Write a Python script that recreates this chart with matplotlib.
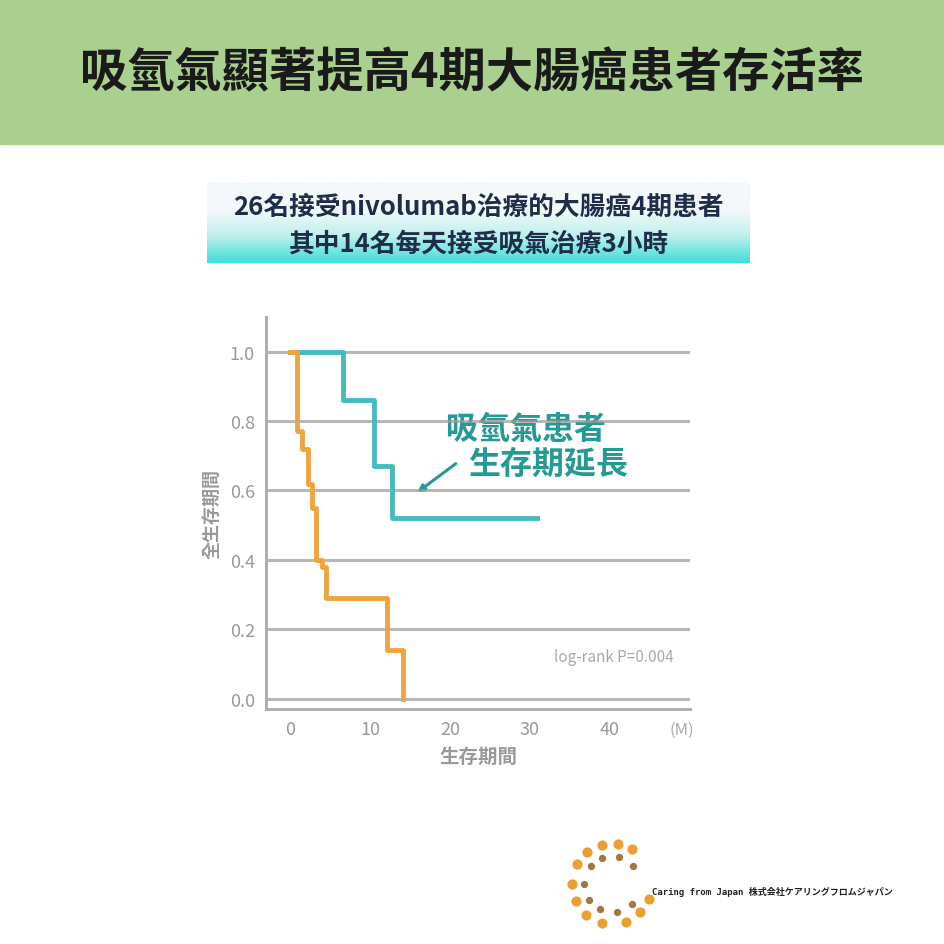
import matplotlib
matplotlib.use("Agg")
import matplotlib.pyplot as plt
import numpy as np
from matplotlib.colors import LinearSegmentedColormap

plt.rcParams['font.family'] = ['Noto Sans CJK TC', 'DejaVu Sans']

title = "吸氫氣顯著提高4期大腸癌患者存活率"
subtitle1 = "26名接受nivolumab治療的大腸癌4期患者"
subtitle2 = "其中14名每天接受吸氣治療3小時"
teal_t = [0, 6.6, 10.5, 12.7, 30.9]
teal_s = [1.0, 0.86, 0.67, 0.52, 0.52]
orange_t = [0, 0.6, 0.9, 1.5, 2.2, 2.8, 3.3, 4.0, 4.5, 12.1, 14.1]
orange_s = [1.0, 1.0, 0.77, 0.72, 0.62, 0.55, 0.40, 0.38, 0.29, 0.14, 0.0]
yticks = [0.0, 0.2, 0.4, 0.6, 0.8, 1.0]
ytick_labels = ["0.0", "0.2", "0.4", "0.6", "0.8", "1.0"]
xticks = [0, 10, 20, 30, 40]
xtick_labels = ["0", "10", "20", "30", "40"]

W = 945
fig = plt.figure(figsize=(9.45, 9.45), dpi=100)
bg = fig.add_axes([0, 0, 1, 1]); bg.set_xlim(0, W); bg.set_ylim(W, 0); bg.axis('off')
bg.add_patch(plt.Rectangle((0, 0), W, 145, color='#a9d08e', zorder=0))
bg.text(472, 73, title, ha='center', va='center', fontsize=34, fontweight='bold', color='#1a1a1a')
grad = np.linspace(0, 1, 50).reshape(-1, 1)
cm = LinearSegmentedColormap.from_list('g', ['#f4f8fb', '#f4f8fb', '#bff0ec', '#3fe0d8'])
bg.imshow(grad, extent=[207, 750, 264, 183], cmap=cm, aspect='auto', zorder=1)
bg.text(478, 207, subtitle1, ha='center', va='center', fontsize=18.5, fontweight='bold', color='#1f2d4a', zorder=2)
bg.text(478, 244, subtitle2, ha='center', va='center', fontsize=18.5, fontweight='bold', color='#1f2d4a', zorder=2)
bg.text(526, 430, "吸氫氣患者", ha='center', va='center', fontsize=23, style='italic', fontweight='bold', color='#259a94', zorder=5)
bg.text(548, 465, "生存期延長", ha='center', va='center', fontsize=23, style='italic', fontweight='bold', color='#259a94', zorder=5)
bg.annotate("", xy=(415, 495), xytext=(458, 463), arrowprops=dict(arrowstyle='-|>', color='#259a94', lw=2.2), zorder=5)
# logo
cx, cy = 612, 885
ang_o = np.deg2rad([60, 82, 105, 128, 150, 180, 205, 230, 255, 290, 315, 338])
bg.scatter(cx + 40*np.cos(ang_o), cy - 40*np.sin(ang_o), s=40, color='#e8a030', zorder=3)
ang_i = np.deg2rad([40, 75, 110, 140, 180, 215, 245, 280, 315])
bg.scatter(cx + 28*np.cos(ang_i), cy - 28*np.sin(ang_i), s=18, color='#a07840', zorder=3)
bg.text(652, 892, "Caring from Japan 株式会社ケアリングフロムジャパン", ha='left', va='center', fontsize=6.5,
        fontweight='bold', family=['DejaVu Sans Mono', 'Noto Sans CJK JP'], color='#222222')

ax = fig.add_axes([266/945, 1-710/945, 424/945, 392/945])
ax.set_xlim(-3, 50); ax.set_ylim(-0.03, 1.1)
for y in yticks:
    ax.axhline(y, color='#9a9a9a', lw=2.2, alpha=0.7, zorder=1)
ax.step(teal_t, teal_s, where='post', color='#45bcbc', lw=3.5, zorder=3)
ax.step(orange_t, orange_s, where='post', color='#f0a440', lw=3.5, zorder=3)
ax.set_yticks(yticks); ax.set_yticklabels(ytick_labels)
ax.set_xticks(xticks); ax.set_xticklabels(xtick_labels)
ax.tick_params(colors='#999999', labelsize=13, length=0, pad=8)
for s in ['top', 'right']:
    ax.spines[s].set_visible(False)
for s in ['left', 'bottom']:
    ax.spines[s].set_color('#aaaaaa'); ax.spines[s].set_linewidth(2)
ax.patch.set_alpha(0)
ax.text(48, 0.12, "log-rank P=0.004", ha='right', va='center', fontsize=11, color='#aaaaaa')
ax.text(49, -0.09, "(M)", ha='center', va='center', fontsize=12, color='#aaaaaa')
ax.set_xlabel("生存期間", fontsize=14, color='#999999', fontweight='bold', labelpad=6)
ax.set_ylabel("全生存期間", fontsize=13, color='#999999', fontweight='bold', labelpad=6)
fig.savefig("out.png", dpi=100)
